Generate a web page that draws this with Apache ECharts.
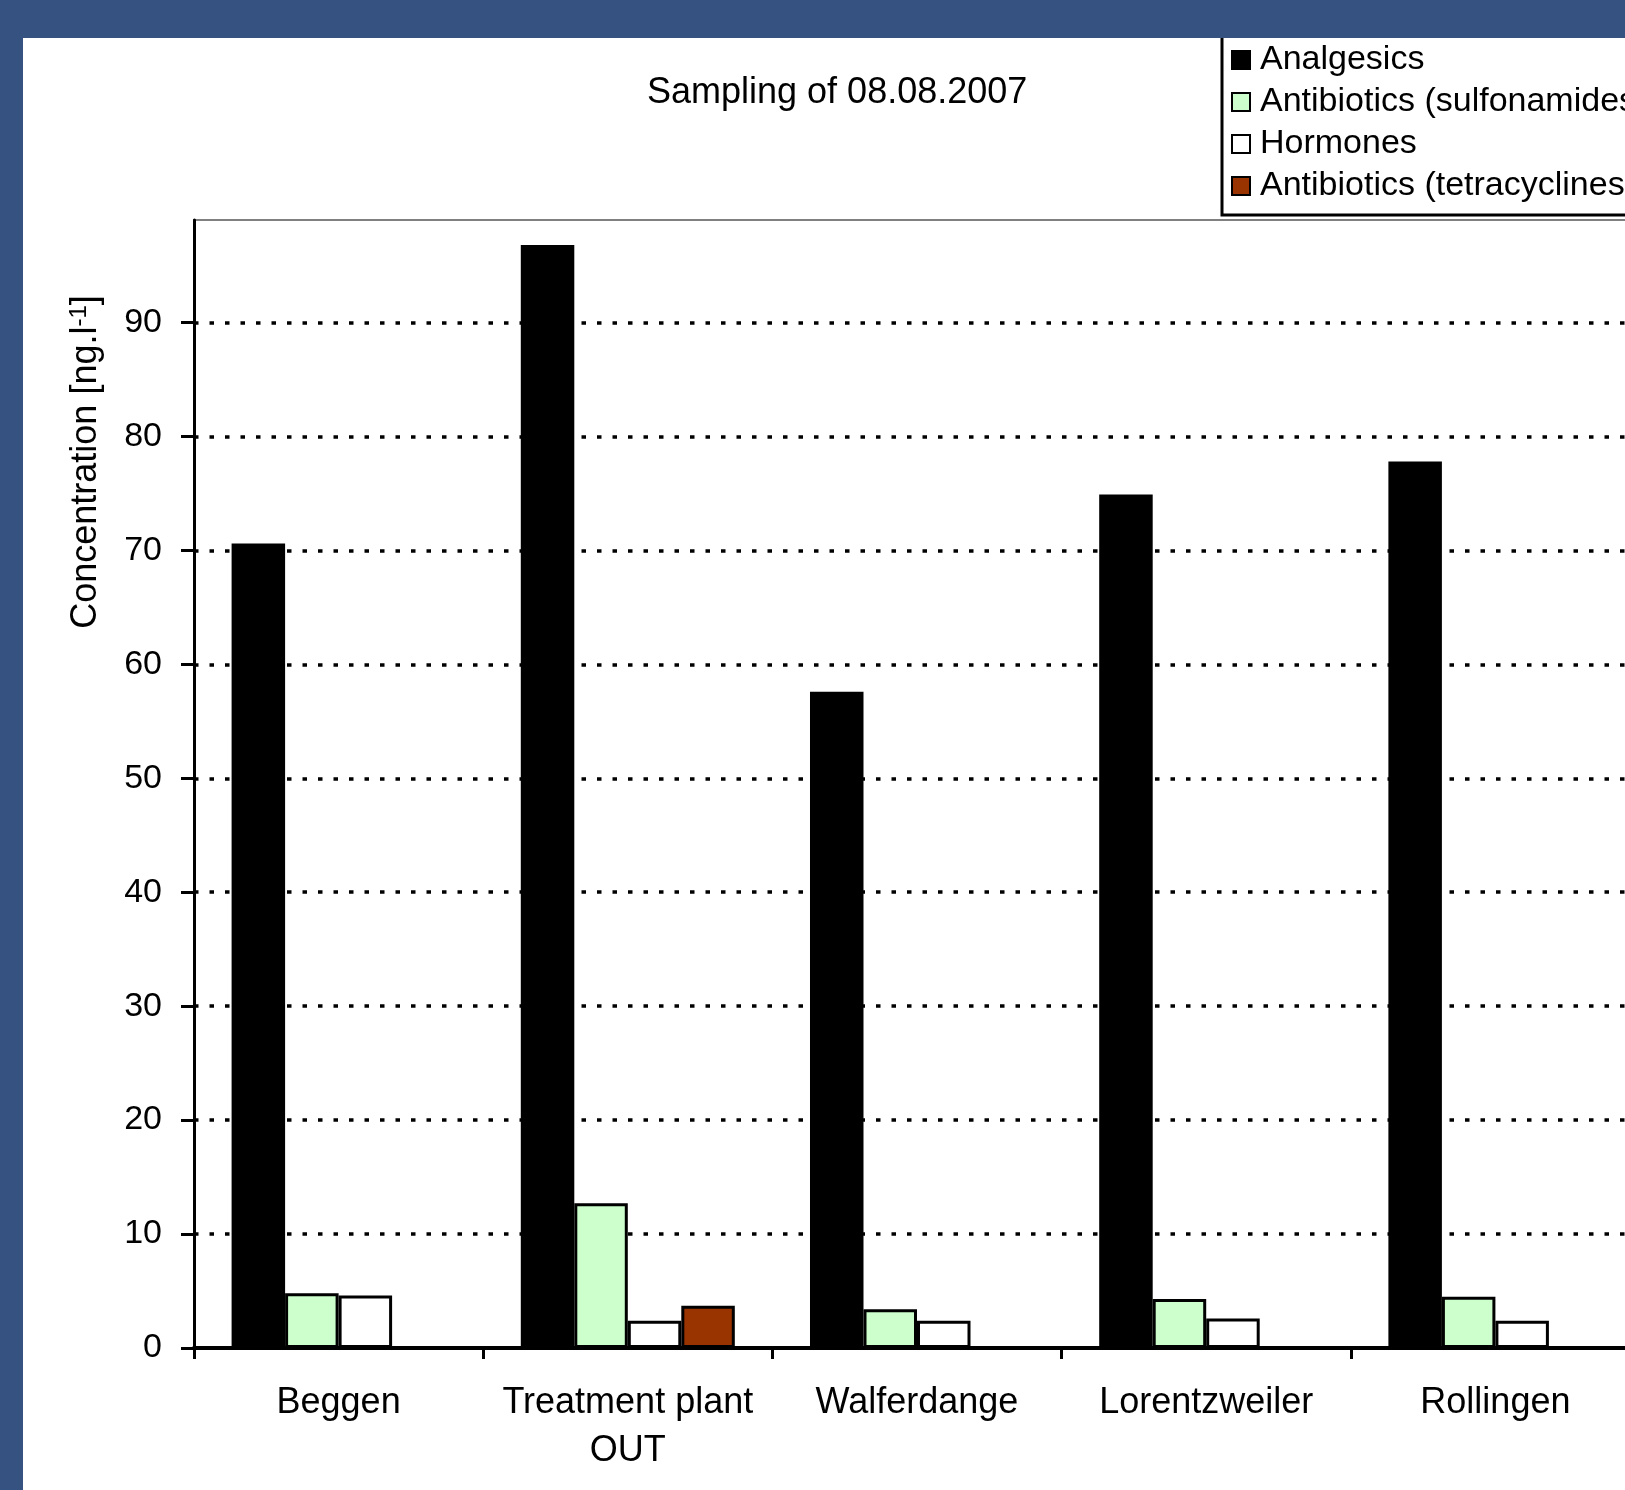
<!DOCTYPE html>
<html>
<head>
<meta charset="utf-8">
<script src="https://cdn.jsdelivr.net/npm/echarts@6/dist/echarts.min.js"></script>
<style>
  html, body { margin: 0; padding: 0; background: #365280; width: 1625px; height: 1490px; overflow: hidden; }
  #chart { position: absolute; left: 23px; top: 38px; width: 1602px; height: 1452px; background: #fff; }
</style>
</head>
<body>
<div id="chart"></div>
<script>
const categories = ['Beggen', 'Treatment plant\nOUT', 'Walferdange', 'Lorentzweiler', 'Rollingen'];
const analgesics = [70.6, 96.8, 57.6, 74.9, 77.8];
const sulfonamides = [4.8, 12.7, 3.4, 4.3, 4.5];
const hormones = [4.6, 2.4, 2.4, 2.6, 2.4];
const tetracyclines = ['-', 3.7, '-', '-', '-'];
const yTicks = [0, 10, 20, 30, 40, 50, 60, 70, 80, 90];

const FONT = '"Liberation Sans", Arial, sans-serif';
const chart = echarts.init(document.getElementById('chart'));

const barStyle = (color) => ({ color: color, borderColor: '#000', borderWidth: 3 });

chart.setOption({
  animation: false,
  textStyle: { fontFamily: FONT, color: '#000' },
  title: {
    text: 'Sampling of 08.08.2007',
    left: 624,
    top: 37,
    padding: 0,
    textStyle: { fontFamily: FONT, fontSize: 36, fontWeight: 'normal', color: '#000' }
  },
  legend: {
    orient: 'vertical',
    left: 1199,
    top: -7,
    padding: [12, 40, 12, 9],
    borderColor: '#000',
    borderWidth: 3,
    backgroundColor: '#fff',
    itemWidth: 18,
    itemHeight: 18,
    itemGap: 8,
    icon: 'rect',
    textStyle: { fontFamily: FONT, fontSize: 34, color: '#000', padding: [0, 0, 0, 5] },
    data: ['Analgesics', 'Antibiotics (sulfonamides)', 'Hormones', 'Antibiotics (tetracyclines)']
  },
  graphic: [{
    type: 'text',
    x: 63,
    y: 424,
    rotation: Math.PI / 2,
    style: {
      text: 'Concentration [ng.l{sup|-1}]',
      fontFamily: FONT,
      fontSize: 36,
      fill: '#000',
      align: 'center',
      verticalAlign: 'middle',
      rich: { sup: { fontFamily: FONT, fontSize: 24, fill: '#000', verticalAlign: 'top', padding: [0, 0, 14, 0] } }
    }
  }],
  grid: {
    left: 171,
    top: 182,
    width: 1446,
    bottom: 142,
    show: true,
    borderColor: '#808080',
    borderWidth: 2,
    containLabel: false,
    outerBoundsMode: 'none'
  },
  xAxis: {
    type: 'category',
    data: categories,
    z: 5,
    axisLine: { lineStyle: { color: '#000', width: 4 } },
    axisTick: { show: true, length: 11, lineStyle: { color: '#000', width: 3 } },
    axisLabel: { fontFamily: FONT, fontSize: 36, color: '#000', margin: 31, lineHeight: 48, interval: 0 },
    splitLine: { show: false }
  },
  yAxis: {
    type: 'value',
    min: 0,
    max: 99,
    interval: 10,
    axisLine: { show: true, lineStyle: { color: '#000', width: 3 } },
    axisTick: { show: true, length: 13, customValues: yTicks, lineStyle: { color: '#000', width: 3 } },
    axisLabel: { fontFamily: FONT, fontSize: 34, color: '#000', margin: 32, customValues: yTicks },
    splitLine: { show: true, lineStyle: { color: '#000', width: 3.5, type: [4.5, 11] } }
  },
  series: [
    { name: 'Analgesics', type: 'bar', data: analgesics, itemStyle: barStyle('#000'), barGap: 0, barCategoryGap: '26%' },
    { name: 'Antibiotics (sulfonamides)', type: 'bar', data: sulfonamides, itemStyle: barStyle('#CCFFCC') },
    { name: 'Hormones', type: 'bar', data: hormones, itemStyle: barStyle('#FFFFFF') },
    { name: 'Antibiotics (tetracyclines)', type: 'bar', data: tetracyclines, itemStyle: barStyle('#993300') }
  ]
});
</script>
</body>
</html>
